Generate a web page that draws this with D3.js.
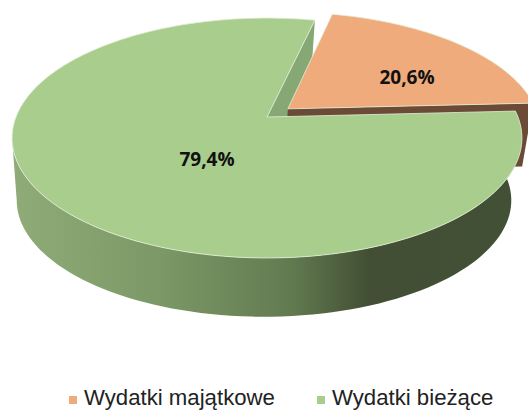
<!DOCTYPE html>
<html>
<head>
<meta charset="utf-8">
<script src="https://cdnjs.cloudflare.com/ajax/libs/d3/7.8.5/d3.min.js"></script>
<style>
html, body { margin: 0; padding: 0; background: #fff; }
svg { display: block; }
</style>
</head>
<body>
<svg id="chart" width="528" height="410"></svg>
<script>
const categories = ["Wydatki majątkowe", "Wydatki bieżące"];
const values = [20.6, 79.4];
const valueLabels = ["20,6%", "79,4%"];

const svg = d3.select("#chart");

// Layout of the tilted pie
const cx = 267, cy = 117;      // pie centre on screen
const radiusX = 251, radiusY = 116.3;
const persp = 0.175;           // front of the pie is drawn larger than the back
const depthY = 63, depthX = -3, depthScale = 0.97;
const explode = 0.11;
const rad = Math.PI / 180;

const colors = {
    top: ["#efab7c", "#a9cd8c"],
    cut: ["#6b4a36", "#86a874"],
    rim: "#e3efd9"
};

const pie = d3.pie().sort(null).startAngle(12.9 * rad).endAngle((12.9 + 360) * rad);
const slices = pie(values);

// unit circle point -> screen, bottom face if lower is set
function project(angle, r, off, lower) {
    const u = r * Math.sin(angle) + off[0];
    const v = -r * Math.cos(angle) + off[1];
    const s = 1 / (1 - persp * v);
    if (lower) {
        return [cx + depthX + radiusX * u * s * depthScale, cy + depthY + radiusY * v * s * depthScale];
    }
    return [cx + radiusX * u * s, cy + radiusY * v * s];
}

function arcPoints(a0, a1, off, lower) {
    const n = Math.ceil(Math.abs(a1 - a0) / (rad * 2));
    return d3.range(n + 1).map(i => project(a0 + (a1 - a0) * i / n, 1, off, lower));
}

const line = d3.line().curve(d3.curveLinear);
const closed = pts => line(pts) + "Z";

const offsets = slices.map((d, i) => {
    if (i !== 0) return [0, 0];
    const mid = (d.startAngle + d.endAngle) / 2;
    return [explode * Math.sin(mid), -explode * Math.cos(mid)];
});

const orange = slices[0], green = slices[1];
const offO = offsets[0], offG = offsets[1];

// Gradient of the outer wall
const grad = svg.append("defs").append("linearGradient")
    .attr("id", "wall")
    .attr("gradientUnits", "userSpaceOnUse")
    .attr("x1", 13).attr("x2", 520).attr("y1", 0).attr("y2", 0);
[[0, "#8fac78"], [0.3, "#7a9765"], [0.55, "#627a50"], [0.7, "#424f34"], [1, "#425035"]].forEach(s => {
    grad.append("stop").attr("offset", s[0]).attr("stop-color", s[1]);
});

const g = svg.append("g");

// cut wall of the green slice, seen through the gap
g.append("path")
    .attr("fill", colors.cut[1])
    .attr("d", closed([
        project(0, 0, offG, false),
        project(green.endAngle, 1, offG, false),
        project(green.endAngle, 1, offG, true),
        project(0, 0, offG, true)
    ]));

// walls of the orange slice
g.append("path")
    .attr("fill", colors.cut[0])
    .attr("d", closed([
        project(0, 0, offO, false),
        project(orange.endAngle, 1, offO, false),
        project(orange.endAngle, 1, offO, true),
        project(0, 0, offO, true)
    ]));

// outer wall of the green slice, up to the left edge of the silhouette
const wallEnd = 260 * rad;
g.append("path")
    .attr("fill", "url(#wall)")
    .attr("d", closed(
        arcPoints(green.startAngle, wallEnd, offG, false)
            .concat(arcPoints(wallEnd, green.startAngle, offG, true))
    ));

// top faces
g.selectAll("path.top")
    .data([green, orange])
    .enter().append("path")
    .attr("class", "top")
    .attr("fill", d => colors.top[d.index])
    .attr("stroke", colors.rim)
    .attr("stroke-width", 0.8)
    .attr("stroke-linejoin", "round")
    .attr("d", d => closed(
        [project(0, 0, offsets[d.index], false)]
            .concat(arcPoints(d.startAngle, d.endAngle, offsets[d.index], false))
    ));

// Value labels
const labelPos = [[407, 77], [207, 159]];
svg.selectAll("text.value")
    .data(valueLabels)
    .enter().append("text")
    .attr("class", "value")
    .attr("x", (d, i) => labelPos[i][0])
    .attr("y", (d, i) => labelPos[i][1])
    .attr("dy", ".35em")
    .attr("text-anchor", "middle")
    .attr("font-family", "'Open Sans', sans-serif")
    .attr("font-weight", 700)
    .attr("font-size", 19)
    .attr("fill", "#111")
    .text(d => d);

// Legend
const legendX = [69, 317];
const legend = svg.selectAll("g.legend")
    .data(categories)
    .enter().append("g")
    .attr("class", "legend")
    .attr("transform", (d, i) => `translate(${legendX[i]},396)`);

legend.append("rect")
    .attr("width", 8)
    .attr("height", 8)
    .attr("fill", (d, i) => colors.top[i]);

legend.append("text")
    .attr("x", 15)
    .attr("y", 1)
    .attr("dy", ".35em")
    .attr("font-family", "'Liberation Sans', Arial, sans-serif")
    .attr("font-size", 22.2)
    .attr("fill", "#222")
    .text(d => d);
</script>
</body>
</html>
